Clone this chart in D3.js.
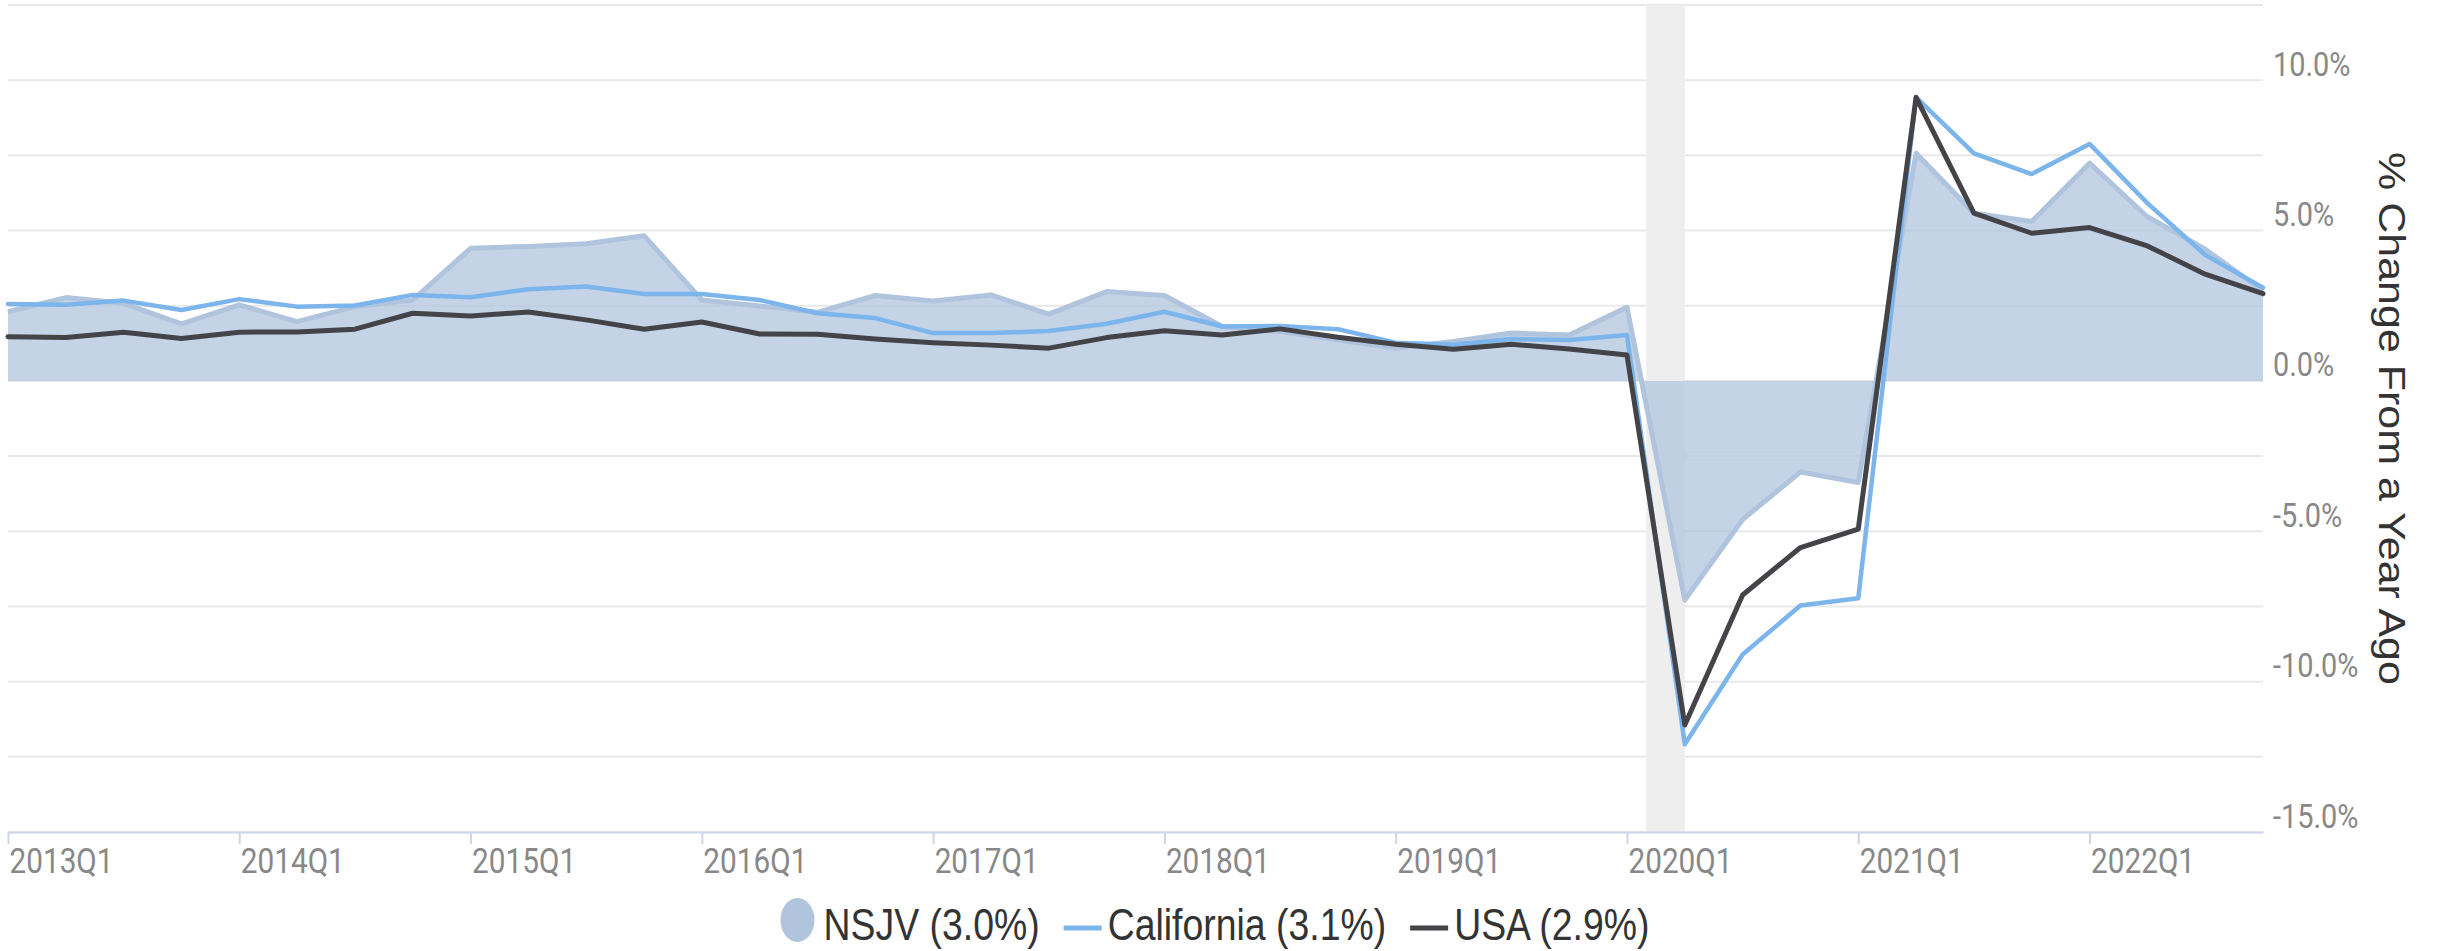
<!DOCTYPE html>
<html>
<head>
<meta charset="utf-8">
<script src="https://cdn.jsdelivr.net/npm/d3@7/dist/d3.min.js"></script>
<style>
body { margin: 0; background: #fff; }
svg { display: block; }
</style>
</head>
<body>
<svg id="chart" width="2440" height="951"></svg>
<script>
// quarterly % change from a year ago, 2013Q1 .. 2022Q4
var quarters = [
	"2013Q1", "2013Q2", "2013Q3", "2013Q4", "2014Q1", "2014Q2", "2014Q3", "2014Q4",
	"2015Q1", "2015Q2", "2015Q3", "2015Q4", "2016Q1", "2016Q2", "2016Q3", "2016Q4",
	"2017Q1", "2017Q2", "2017Q3", "2017Q4", "2018Q1", "2018Q2", "2018Q3", "2018Q4",
	"2019Q1", "2019Q2", "2019Q3", "2019Q4", "2020Q1", "2020Q2", "2020Q3", "2020Q4",
	"2021Q1", "2021Q2", "2021Q3", "2021Q4", "2022Q1", "2022Q2", "2022Q3", "2022Q4"
];

var nsjv = [
	2.30, 2.77, 2.58, 1.90, 2.53, 1.97, 2.47, 2.69,
	4.41, 4.47, 4.56, 4.83, 2.69, 2.49, 2.28, 2.84,
	2.66, 2.86, 2.22, 2.97, 2.84, 1.81, 1.64, 1.36,
	1.09, 1.31, 1.59, 1.53, 2.45, -7.29, -4.61, -3.03,
	-3.38, 7.57, 5.58, 5.30, 7.24, 5.46, 4.38, 3.00
];

var california = [
	2.56, 2.53, 2.67, 2.36, 2.72, 2.47, 2.51, 2.86,
	2.78, 3.05, 3.14, 2.89, 2.89, 2.69, 2.25, 2.09,
	1.59, 1.59, 1.66, 1.90, 2.30, 1.81, 1.83, 1.72,
	1.27, 1.20, 1.39, 1.36, 1.53, -12.08, -9.10, -7.47,
	-7.23, 9.43, 7.57, 6.88, 7.88, 5.91, 4.19, 3.10
];

var usa = [
	1.47, 1.44, 1.62, 1.41, 1.62, 1.63, 1.72, 2.25,
	2.16, 2.29, 2.03, 1.72, 1.96, 1.56, 1.55, 1.39,
	1.27, 1.19, 1.09, 1.44, 1.67, 1.53, 1.73, 1.45,
	1.22, 1.05, 1.22, 1.06, 0.86, -11.44, -7.12, -5.54,
	-4.93, 9.43, 5.58, 4.91, 5.10, 4.49, 3.55, 2.90
];

var xTickLabels = ["2013Q1", "2014Q1", "2015Q1", "2016Q1", "2017Q1", "2018Q1", "2019Q1", "2020Q1", "2021Q1", "2022Q1"];
var yTickValues = [-15, -10, -5, 0, 5, 10];
var yGridValues = [-15, -12.5, -10, -7.5, -5, -2.5, 0, 2.5, 5, 7.5, 10, 12.5];
var recession = ["2020-02", "2020-04"];
var legendLabels = ["NSJV (3.0%)", "California (3.1%)", "USA (2.9%)"];
var yTitle = "% Change From a Year Ago";

var width = 2440,
	height = 951,
	margin = {top: 5, right: 177, bottom: 119, left: 8},
	squeeze = 0.85;

var colors = {
	nsjv: "#b0c4de",
	california: "#7cb5ec",
	usa: "#434348",
	grid: "#e9e9e9",
	axis: "#ccd6eb",
	band: "#eeeeee",
	label: "#888888",
	text: "#333333"
};

var svg = d3.select("#chart");

var x = d3.scaleLinear()
	.domain([0, quarters.length - 1])
	.range([margin.left, width - margin.right]);

var y = d3.scaleLinear()
	.domain([-15, 12.5])
	.range([height - margin.bottom, margin.top]);

var monthToIndex = function (s) {
	var p = s.split("-");
	return (+p[0] - 2013) * 4 + (+p[1] - 1) / 3;
};

// hyphen minus, like the source chart
var pct = function (d) {
	return d3.format(".1f")(d).replace("\u2212", "-") + "%";
};

// gridlines
var grid = svg.append("g").attr("class", "grid");
grid.selectAll("line").data(yGridValues)
	.enter()
	.append("line")
	.attr("x1", x.range()[0])
	.attr("x2", x.range()[1])
	.attr("y1", function (d) { return y(d); })
	.attr("y2", function (d) { return y(d); })
	.attr("stroke", colors.grid)
	.attr("stroke-width", 2);

// recession band
svg.append("rect")
	.attr("x", x(monthToIndex(recession[0])))
	.attr("width", x(monthToIndex(recession[1])) - x(monthToIndex(recession[0])))
	.attr("y", y.range()[1])
	.attr("height", y.range()[0] - y.range()[1])
	.attr("fill", colors.band);

// NSJV area
var area = d3.area()
	.x(function (d, i) { return x(i); })
	.y0(y(0))
	.y1(function (d) { return y(d); });

var line = d3.line()
	.x(function (d, i) { return x(i); })
	.y(function (d) { return y(d); });

svg.append("path")
	.datum(nsjv)
	.attr("d", area)
	.attr("fill", colors.nsjv)
	.attr("fill-opacity", 0.75);

svg.append("path")
	.datum(nsjv)
	.attr("d", line)
	.attr("fill", "none")
	.attr("stroke", colors.nsjv)
	.attr("stroke-width", 5)
	.attr("stroke-linejoin", "round");

[[california, colors.california, 4.5], [usa, colors.usa, 5]].forEach(function (s) {
	svg.append("path")
		.datum(s[0])
		.attr("d", line)
		.attr("fill", "none")
		.attr("stroke", s[1])
		.attr("stroke-width", s[2])
		.attr("stroke-linejoin", "round")
		.attr("stroke-linecap", "round");
});

// x axis
var xAxis = d3.axisBottom(x)
	.tickValues(xTickLabels.map(function (d) { return quarters.indexOf(d); }))
	.tickFormat(function (i) { return quarters[i]; })
	.tickSize(12)
	.tickSizeOuter(0);

var gx = svg.append("g")
	.attr("transform", "translate(0," + y(-15) + ")")
	.call(xAxis);
gx.select(".domain").attr("stroke", colors.axis).attr("stroke-width", 2);
gx.selectAll(".tick line").attr("stroke", colors.axis).attr("stroke-width", 2);
gx.selectAll(".tick text")
	.attr("text-anchor", "start")
	.attr("x", 0)
	.attr("y", 0)
	.attr("dy", null)
	.attr("transform", "translate(1,41) scale(" + squeeze + ",1)")
	.attr("fill", colors.label)
	.style("font-family", "Roboto, sans-serif")
	.style("font-size", "35px");

// y axis (right side)
var yAxis = d3.axisRight(y)
	.tickValues(yTickValues)
	.tickFormat(pct)
	.tickSize(0);

var gy = svg.append("g")
	.attr("transform", "translate(" + x.range()[1] + ",0)")
	.call(yAxis);
gy.select(".domain").remove();
gy.selectAll(".tick text")
	.attr("x", 0)
	.attr("dy", null)
	.attr("text-anchor", "start")
	.attr("transform", "translate(10,-5) scale(" + squeeze + ",1)")
	.attr("fill", colors.label)
	.style("font-family", "Roboto, sans-serif")
	.style("font-size", "34px");

// axis title
svg.append("text")
	.attr("transform", "translate(2392," + (y.range()[0] + y.range()[1]) / 2 + ") rotate(90) scale(1," + squeeze + ")")
	.attr("text-anchor", "middle")
	.attr("dy", "0.35em")
	.attr("fill", colors.text)
	.style("font-family", "'Liberation Sans', Arial, sans-serif")
	.style("font-size", "43px")
	.text(yTitle);

// legend
var legend = svg.append("g").attr("class", "legend");
var legendItems = [
	{label: legendLabels[0], color: colors.nsjv, type: "area"},
	{label: legendLabels[1], color: colors.california, type: "line"},
	{label: legendLabels[2], color: colors.usa, type: "line"}
];

var cursor = 0;
legendItems.forEach(function (item, i) {
	var g = legend.append("g");
	var symbolWidth = item.type === "area" ? 34 : 38;
	if (item.type === "area") {
		g.append("ellipse")
			.attr("cx", cursor + 17)
			.attr("cy", -20)
			.attr("rx", 17)
			.attr("ry", 22)
			.attr("fill", item.color);
	} else {
		g.append("line")
			.attr("x1", cursor)
			.attr("x2", cursor + symbolWidth)
			.attr("y1", -12)
			.attr("y2", -12)
			.attr("stroke", item.color)
			.attr("stroke-width", 5);
	}
	var textX = cursor + symbolWidth + (item.type === "area" ? 9 : 6);
	var t = g.append("text")
		.attr("transform", "translate(" + textX + ",0) scale(" + squeeze + ",1)")
		.attr("fill", colors.text)
		.style("font-family", "'Liberation Sans', Arial, sans-serif")
		.style("font-size", "44px")
		.text(item.label);
	cursor = textX + t.node().getComputedTextLength() * squeeze + 24;
});
var legendWidth = cursor - 24;
legend.attr("transform", "translate(" + (1215 - legendWidth / 2) + ",940)");
</script>
</body>
</html>
